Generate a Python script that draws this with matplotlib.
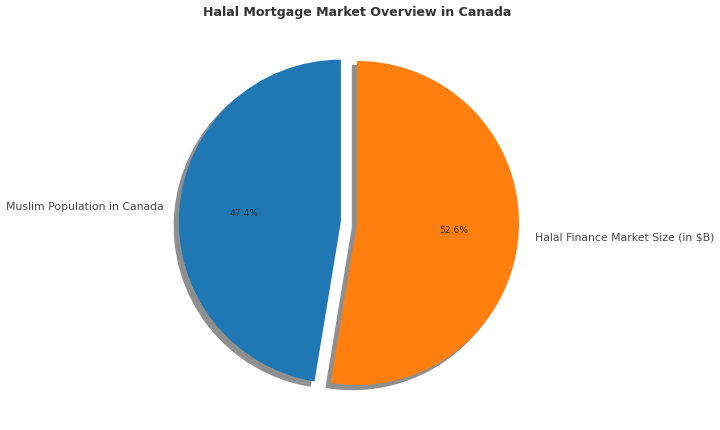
import matplotlib.pyplot as plt

# data
labels = ['Muslim Population in Canada', 'Halal Finance Market Size (in $B)']
shares = [47.4, 52.6]
colors = ['#1f77b4', '#ff7f0e']
explode = [0.1, 0]

fig = plt.figure(figsize=(7.2, 4.3), dpi=100)
# square axes box centred where the pie sits in the reference
ax = fig.add_axes([0.2146, 0.0105, 0.5625, 0.9419])

wedges, texts, autotexts = ax.pie(
    shares, labels=labels, colors=colors, explode=explode,
    autopct='%1.1f%%', startangle=90,
    shadow={'facecolor': '#8f8f8f', 'edgecolor': '#8f8f8f', 'alpha': 1},
    textprops={'fontsize': 7.8, 'color': '#444444'},
)
for t in autotexts:
    t.set_fontsize(6.6)
    t.set_color('#333333')

ax.set_title('Halal Mortgage Market Overview in Canada',
             fontsize=9.1, fontweight='bold', color='#333333', pad=3)

fig.savefig('out.png', dpi=100, facecolor='white')
